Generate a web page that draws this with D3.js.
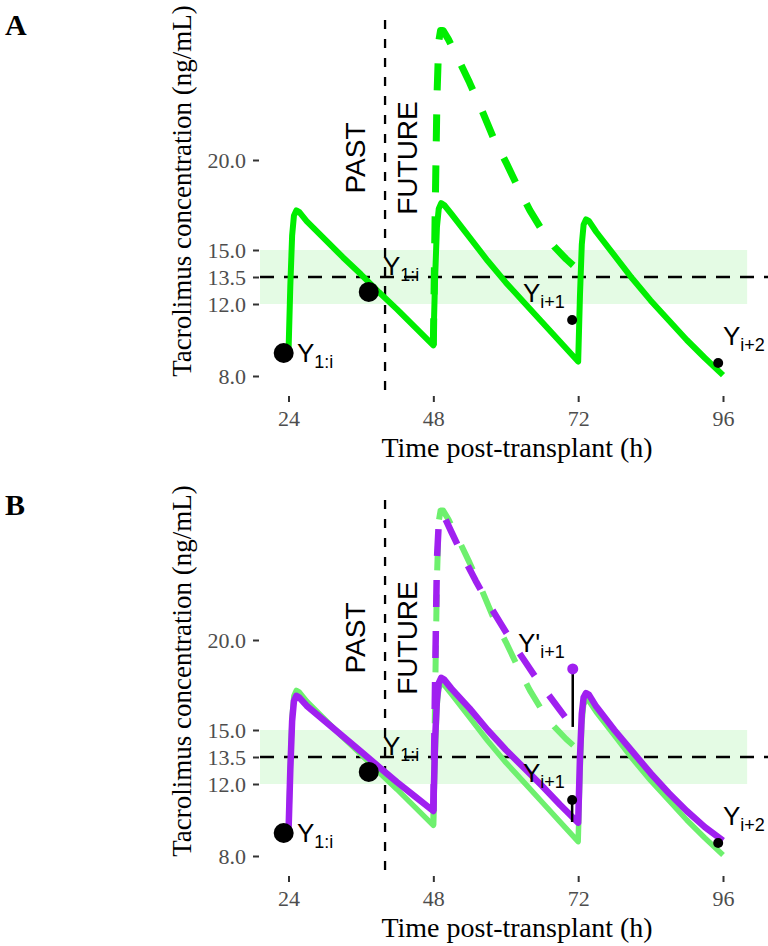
<!DOCTYPE html>
<html><head><meta charset="utf-8">
<script src="https://cdn.jsdelivr.net/npm/d3@7"></script>
<style>body{margin:0;background:#fff} svg{display:block}</style>
</head><body>
<svg id="chart" width="768" height="946"></svg>
<script>
// ---------------- data ----------------
const xTicks = [24, 48, 72, 96];
const yTicks = [8, 12, 13.5, 15, 20];
const targetLow = 12, targetHigh = 15, targetMid = 13.5, bandEnd = 100;
const splitTime = 40;

// fitted (past) concentration curve, original dosing
const fitT = [24, 24.3, 24.6, 24.9, 25.3, 25.8, 27, 30, 33, 36, 39, 42, 45, 48,
              48.3, 48.6, 48.9, 49.3, 49.8, 51, 54, 57, 60, 63, 66, 69, 72,
              72.3, 72.6, 72.9, 73.3, 73.8, 75, 78, 81, 84, 87, 90, 93, 96];
const fitV = [9.3, 13.0, 15.8, 16.9, 17.2, 17.1, 16.6, 15.6, 14.6, 13.65, 12.65, 11.7, 10.7, 9.7,
              13.5, 16.3, 17.3, 17.6, 17.5, 17.0, 15.7, 14.4, 13.2, 12.1, 11.0, 9.9, 8.8,
              12.5, 15.3, 16.4, 16.7, 16.6, 16.0, 14.7, 13.4, 12.2, 11.1, 10.0, 9.0, 8.05];
// predicted curve for alternative dose (dashed)
const predT = [48, 48.3, 48.6, 48.9, 49.2, 49.6, 50.5, 52, 54, 56, 58, 60, 62, 64, 66, 68, 70, 72];
const predV = [9.7, 17.0, 23.5, 26.6, 27.2, 27.2, 26.7, 25.7, 24.3, 22.8, 21.2, 19.9, 18.5, 17.2, 16.1, 15.2, 14.5, 13.9];
// updated fitted curve (panel B, purple)
const fitPT = [24, 24.3, 24.6, 24.9, 25.3, 25.8, 27, 30, 33, 36, 39, 42, 45, 48,
               48.3, 48.6, 48.9, 49.3, 49.8, 51, 54, 57, 60, 63, 66, 69, 72,
               72.3, 72.6, 72.9, 73.3, 73.8, 75, 78, 81, 84, 87, 90, 93, 96];
const fitPV = [9.3, 12.8, 15.5, 16.6, 16.9, 16.8, 16.35, 15.5, 14.65, 13.8, 12.95, 12.1, 11.3, 10.5,
               14.5, 16.7, 17.6, 17.9, 17.8, 17.3, 16.2, 15.0, 13.9, 12.9, 11.9, 10.85, 9.85,
               13.5, 15.9, 16.8, 17.05, 16.95, 16.3, 15.0, 13.8, 12.6, 11.5, 10.5, 9.6, 8.85];
const predPT = [48, 48.3, 48.6, 48.9, 49.2, 49.6, 51, 53, 55, 57, 59, 61, 63, 65, 67, 69, 71, 72];
const predPV = [10.5, 18.0, 24.5, 26.5, 27.0, 27.0, 26.0, 24.6, 23.3, 22.1, 21.0, 19.9, 18.9, 17.9, 17.0, 16.1, 15.2, 14.8];

// observations
const pastObsT = [23.2, 37.3], pastObsV = [9.28, 12.67];
const futObsT = [71.0, 95.2], futObsV = [11.11, 8.72];
const altObsT = [71.1], altObsV = [18.39];
// residual segments in panel B: time, from, to
const residT = [71.1, 71.0], residFrom = [18.39, 11.11], residTo = [15.17, 9.89];

// annotation anchors (data units)
const labT = [25.41, 39.66, 62.86, 96.0], labV = [8.78, 13.61, 12.11, 9.72];
const labMain = ["Y", "Y", "Y", "Y"], labSub = ["1:i", "1:i", "i+1", "i+2"];
const altLabT = 62.03, altLabV = 19.33;
const pastT = 36.68, futureT = 45.3, pfV = 20.11;

// ---------------- drawing ----------------
const svg = d3.select("#chart");
const x = d3.scaleLinear().domain([24, 96]).range([288.5, 723]);
const y = d3.scaleLinear().domain([8, 20]).range([376, 160]);
const panel = {left: 260, right: 774, top: 20, bottom: 396};
const GREEN = "#00ee00", LGREEN = "#6ef06e", PURPLE = "#a020f0";
const serif = "'Liberation Serif','Times New Roman',serif";
const sans = "'Liberation Sans',Arial,sans-serif";

const toPts = (T, V) => T.map((t, i) => [t, V[i]]);
const line = d3.line().x(d => x(d[0])).y(d => y(d[1])).curve(d3.curveLinear);

function subLabel(g, t, v, main, sub) {
  const tx = g.append("text").attr("x", x(t)).attr("y", y(v))
    .attr("font-family", sans).attr("font-size", 26).attr("fill", "#000");
  tx.append("tspan").text(main);
  tx.append("tspan").attr("font-size", 18).attr("dy", 6).text(sub);
}

function drawPanel(offset, letter, isB) {
  const g = svg.append("g").attr("transform", `translate(0,${offset})`);
  // target band
  g.append("rect").attr("x", panel.left).attr("width", x(bandEnd) - panel.left)
    .attr("y", y(targetHigh)).attr("height", y(targetLow) - y(targetHigh)).attr("fill", "#e4fbe4");
  // target line
  g.append("line").attr("x1", panel.left).attr("x2", panel.right)
    .attr("y1", y(targetMid)).attr("y2", y(targetMid))
    .attr("stroke", "#000").attr("stroke-width", 2.5).attr("stroke-dasharray", "14,10");
  // past/future split
  g.append("line").attr("x1", x(splitTime)).attr("x2", x(splitTime))
    .attr("y1", panel.top).attr("y2", panel.bottom)
    .attr("stroke", "#000").attr("stroke-width", 2.3).attr("stroke-dasharray", "9,10");

  // axes
  const xa = g.append("g").attr("transform", `translate(0,${panel.bottom})`)
    .call(d3.axisBottom(x).tickValues(xTicks).tickSize(6).tickPadding(8));
  const ya = g.append("g").attr("transform", `translate(${panel.left - 1},0)`)
    .call(d3.axisLeft(y).tickValues(yTicks).tickFormat(d3.format(".1f")).tickSize(6).tickPadding(7));
  [xa, ya].forEach(a => {
    a.select(".domain").remove();
    a.selectAll("line").attr("stroke", "#333").attr("stroke-width", 2);
    a.selectAll("text").attr("font-family", serif).attr("font-size", 22).attr("fill", "#4d4d4d");
  });

  // curves
  const fitColor = isB ? LGREEN : GREEN;
  const w = isB ? 5.5 : 6;
  g.append("path").attr("d", line(toPts(fitT, fitV))).attr("fill", "none")
    .attr("stroke", fitColor).attr("stroke-width", w).attr("stroke-linejoin", "round");
  g.append("path").attr("d", line(toPts(predT, predV))).attr("fill", "none")
    .attr("stroke", fitColor).attr("stroke-width", isB ? 6 : 7).attr("stroke-linejoin", "round")
    .attr("stroke-dasharray", "27,24");
  if (isB) {
    g.append("path").attr("d", line(toPts(fitPT, fitPV))).attr("fill", "none")
      .attr("stroke", PURPLE).attr("stroke-width", 6.5).attr("stroke-linejoin", "round");
    g.append("path").attr("d", line(toPts(predPT, predPV))).attr("fill", "none")
      .attr("stroke", PURPLE).attr("stroke-width", 6.5).attr("stroke-linejoin", "round")
      .attr("stroke-dasharray", "27,24");
    residT.forEach((t, i) => {
      g.append("line").attr("x1", x(t)).attr("x2", x(t))
        .attr("y1", y(residFrom[i])).attr("y2", y(residTo[i]))
        .attr("stroke", "#000").attr("stroke-width", 2.5);
    });
    g.append("circle").attr("cx", x(altObsT[0])).attr("cy", y(altObsV[0])).attr("r", 5.5).attr("fill", PURPLE);
  }

  // observations
  pastObsT.forEach((t, i) => g.append("circle").attr("cx", x(t)).attr("cy", y(pastObsV[i])).attr("r", 10).attr("fill", "#000"));
  futObsT.forEach((t, i) => g.append("circle").attr("cx", x(t)).attr("cy", y(futObsV[i])).attr("r", 5).attr("fill", "#000"));

  // labels
  labT.forEach((t, i) => subLabel(g, t, labV[i], labMain[i], labSub[i]));
  if (isB) subLabel(g, altLabT, altLabV, "Y'", "i+1");

  [["PAST", pastT], ["FUTURE", futureT]].forEach(([s, t]) => {
    g.append("text").attr("transform", `translate(${x(t)},${y(pfV)}) rotate(-90)`)
      .attr("text-anchor", "middle").attr("font-family", sans).attr("font-size", 28).text(s);
  });

  // axis titles
  g.append("text").attr("x", 517).attr("y", 457).attr("text-anchor", "middle")
    .attr("font-family", serif).attr("font-size", 28).text("Time post-transplant (h)");
  g.append("text").attr("transform", "translate(191,191) rotate(-90)").attr("text-anchor", "middle")
    .attr("font-family", serif).attr("font-size", 27).text("Tacrolimus concentration (ng/mL)");
  // panel letter
  g.append("text").attr("x", 5).attr("y", 35).attr("font-family", serif)
    .attr("font-weight", "bold").attr("font-size", 30).text(letter);
}

drawPanel(0, "A", false);
drawPanel(480, "B", true);
</script>
</body></html>
